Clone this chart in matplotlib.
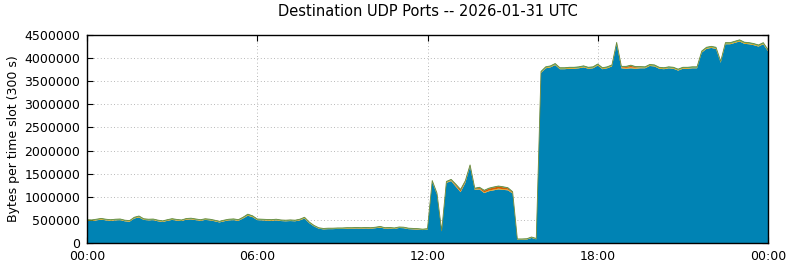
import matplotlib
matplotlib.use("Agg")
import matplotlib.pyplot as plt
import numpy as np

# ---- data (10-minute steps, 00:00 .. 24:00) ----
step_minutes = 10
tick_hours = [0, 6, 12, 18, 24]
tick_labels = ["00:00", "06:00", "12:00", "18:00", "00:00"]
y_ticks = [0, 500000, 1000000, 1500000, 2000000, 2500000, 3000000, 3500000, 4000000, 4500000]

# main (blue) layer, bytes per slot
main_bytes = [
    480000, 475000, 490000, 505000, 490000, 480000, 490000, 495000, 470000, 460000, 530000, 555000,   # 00-02
    500000, 490000, 495000, 470000, 455000, 480000, 500000, 485000, 475000, 505000, 510000, 495000,   # 02-04
    480000, 500000, 490000, 470000, 445000, 470000, 490000, 495000, 480000, 530000, 590000, 560000,   # 04-06
    495000, 490000, 485000, 480000, 490000, 475000, 470000, 475000, 470000, 490000, 530000, 430000,   # 06-08
    360000, 310000, 295000, 300000, 300000, 305000, 305000, 310000, 310000, 315000, 310000, 315000,   # 08-10
    310000, 320000, 335000, 310000, 315000, 305000, 325000, 320000, 300000, 295000, 290000, 280000,   # 10-12
    290000, 1320000, 1050000, 250000, 1300000, 1340000, 1220000, 1100000, 1300000, 1650000, 1150000, 1160000,  # 12-14
    1080000, 1120000, 1140000, 1160000, 1150000, 1140000, 1070000, 70000, 70000, 75000, 110000, 80000,  # 14-16
    3680000, 3780000, 3800000, 3850000, 3760000, 3760000, 3770000, 3770000, 3780000, 3800000, 3770000, 3780000,  # 16-18
    3840000, 3760000, 3780000, 3820000, 4300000, 3780000, 3770000, 3780000, 3770000, 3780000, 3780000, 3830000,  # 18-20
    3820000, 3770000, 3760000, 3780000, 3770000, 3730000, 3770000, 3770000, 3780000, 3780000, 4120000, 4200000,  # 20-22
    4220000, 4200000, 3900000, 4300000, 4300000, 4330000, 4360000, 4310000, 4300000, 4280000, 4250000, 4300000,  # 22-24
    4150000,
]

orange_bytes = [
    15000, 14000, 15000, 16000, 15000, 14000, 15000, 15000, 14000, 15000, 16000, 17000,
    15000, 15000, 14000, 15000, 14000, 15000, 16000, 15000, 14000, 15000, 16000, 15000,
    14000, 15000, 15000, 14000, 14000, 15000, 15000, 16000, 15000, 16000, 18000, 17000,
    15000, 15000, 14000, 15000, 15000, 14000, 14000, 15000, 14000, 15000, 16000, 14000,
    12000, 11000, 11000, 12000, 12000, 12000, 12000, 13000, 12000, 12000, 12000, 13000,
    12000, 13000, 14000, 12000, 12000, 12000, 13000, 13000, 12000, 12000, 11000, 11000,
    12000, 15000, 14000, 10000, 15000, 15000, 15000, 14000, 15000, 16000, 14000, 14000,
    14000, 15000, 15000, 16000, 15000, 15000, 14000, 10000, 10000, 10000, 12000, 10000,
    18000, 18000, 18000, 19000, 18000, 18000, 18000, 18000, 18000, 19000, 18000, 18000,
    19000, 18000, 18000, 19000, 20000, 18000, 18000, 19000, 18000, 18000, 18000, 19000,
    19000, 18000, 18000, 18000, 18000, 18000, 18000, 18000, 18000, 18000, 19000, 20000,
    20000, 20000, 19000, 20000, 20000, 20000, 21000, 20000, 20000, 20000, 20000, 20000,
    19000,
]

red_bytes = [
    0, 0, 0, 0, 0, 0, 0, 0, 0, 0, 0, 0,
    0, 0, 0, 0, 0, 0, 0, 0, 0, 0, 0, 0,
    0, 0, 0, 0, 0, 0, 0, 0, 0, 0, 0, 0,
    0, 0, 0, 0, 0, 0, 0, 0, 0, 0, 0, 0,
    0, 0, 0, 0, 0, 0, 0, 0, 0, 0, 0, 0,
    0, 0, 0, 0, 0, 0, 0, 0, 0, 0, 0, 0,
    0, 5000, 5000, 0, 5000, 10000, 25000, 35000, 20000, 10000, 10000, 20000,
    35000, 40000, 45000, 45000, 40000, 30000, 15000, 0, 0, 0, 0, 0,
    0, 0, 0, 0, 0, 0, 0, 0, 0, 0, 0, 0,
    0, 0, 0, 0, 5000, 10000, 20000, 35000, 15000, 5000, 0, 0,
    0, 0, 0, 0, 0, 0, 0, 0, 0, 0, 0, 0,
    0, 0, 0, 0, 0, 0, 0, 0, 0, 0, 0, 0,
    0,
]

green_bytes = [
    10000, 10000, 10000, 11000, 10000, 10000, 10000, 10000, 10000, 10000, 11000, 12000,
    10000, 10000, 10000, 10000, 10000, 10000, 11000, 10000, 10000, 10000, 11000, 10000,
    10000, 10000, 10000, 10000, 10000, 10000, 10000, 11000, 10000, 12000, 16000, 12000,
    10000, 10000, 10000, 10000, 10000, 10000, 10000, 10000, 10000, 10000, 11000, 10000,
    9000, 9000, 9000, 9000, 9000, 9000, 9000, 9000, 9000, 9000, 9000, 9000,
    9000, 9000, 10000, 9000, 9000, 9000, 9000, 9000, 9000, 9000, 9000, 9000,
    9000, 12000, 11000, 8000, 12000, 12000, 12000, 11000, 12000, 14000, 12000, 12000,
    12000, 12000, 12000, 12000, 12000, 12000, 12000, 8000, 8000, 8000, 8000, 8000,
    14000, 14000, 14000, 14000, 14000, 14000, 14000, 14000, 14000, 14000, 14000, 14000,
    14000, 14000, 14000, 14000, 16000, 14000, 14000, 14000, 14000, 14000, 14000, 14000,
    14000, 14000, 14000, 14000, 14000, 14000, 14000, 14000, 14000, 14000, 15000, 15000,
    15000, 15000, 14000, 15000, 15000, 15000, 15000, 15000, 15000, 15000, 15000, 15000,
    15000,
]

hours = np.arange(len(main_bytes)) * step_minutes / 60.0

# ---- figure ----
fig = plt.figure(figsize=(7.9, 2.67), dpi=100)
ax = fig.add_axes([87 / 790, 24 / 267, (768 - 87) / 790, (243 - 35) / 267])

colors = ["#0083b4", "#e69f00", "#d55e00", "#009e73"]
ax.stackplot(hours, main_bytes, orange_bytes, red_bytes, green_bytes,
             colors=colors, linewidth=0, zorder=2)
total = np.array(main_bytes) + np.array(orange_bytes) + np.array(red_bytes) + np.array(green_bytes)
ax.plot(hours, total, color="#6f8a3a", linewidth=0.6, zorder=3)

ax.set_xlim(0, 24)
ax.set_ylim(0, 4500000)
ax.set_xticks(tick_hours)
ax.set_xticklabels(tick_labels)
ax.set_yticks(y_ticks)
ax.set_yticklabels([str(v) for v in y_ticks])
ax.tick_params(direction="in", top=True, right=True, length=4, width=0.8,
               labelsize=9, colors="black", pad=5)
ax.grid(True, color="#a0a0a0", linestyle=(0, (1, 3)), linewidth=0.6, zorder=1)
ax.set_axisbelow(True)
for s in ax.spines.values():
    s.set_linewidth(1.0)
    s.set_color("black")
    s.set_zorder(5)

ax.set_ylabel("Bytes per time slot (300 s)", fontsize=9, labelpad=3)
fig.text(427.5 / 790, 1 - 12 / 267, "Destination UDP Ports -- 2026-01-31 UTC",
         ha="center", va="center", fontsize=10.5)

fig.savefig("out.png", dpi=100)
